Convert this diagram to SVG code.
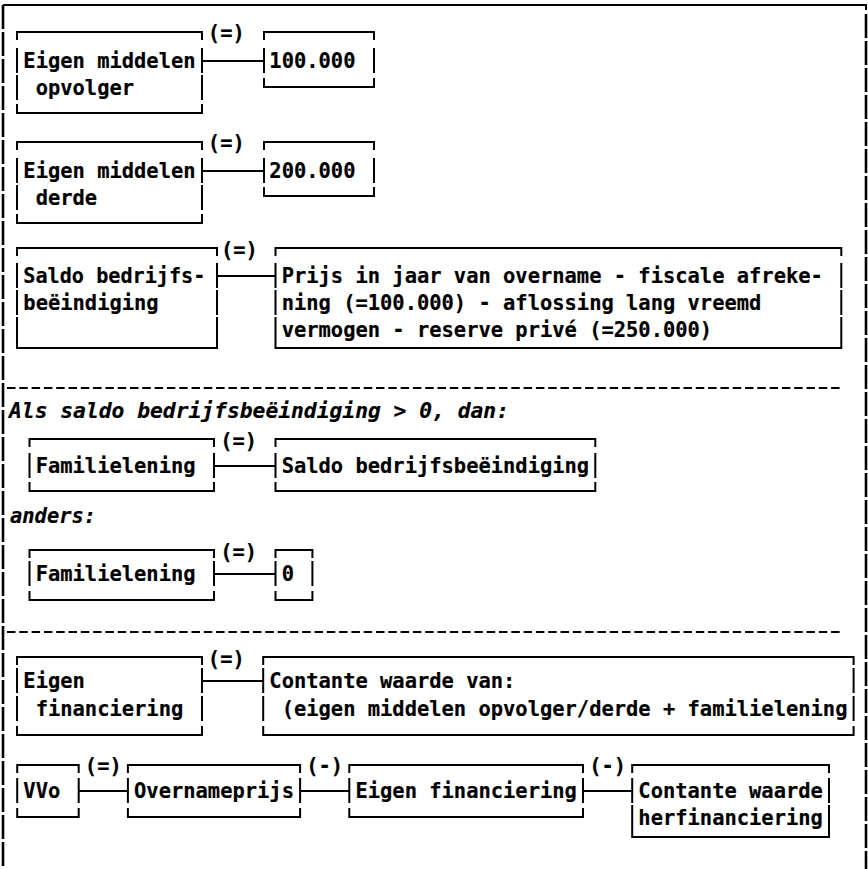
<svg xmlns="http://www.w3.org/2000/svg" width="868" height="869" viewBox="0 0 868 869">
  <style>
    .frame { fill: none; stroke: #000; stroke-width: 2.6; stroke-dasharray: 24 3; }
    .top { fill: none; stroke: #000; stroke-width: 2; }
    .box { fill: none; stroke: #000; stroke-width: 2; stroke-linecap: square; }
    .link { fill: none; stroke: #000; stroke-width: 1.8; }
    .rule { fill: none; stroke: #000; stroke-width: 2.2; stroke-dasharray: 8.5 3.8; }
    text { font-family: "DejaVu Sans Mono", "Liberation Mono", monospace; font-weight: bold; font-size: 20.4px; fill: #000; stroke: #000; stroke-width: 0.2; }
    .it { font-style: italic; }
  </style>

  <!-- page frame -->
  <g id="frame">
    <path class="top" d="M3 5H866V10"/>
    <path class="frame" d="M3 5V869"/>
    <path class="frame" d="M866 14V869"/>
  </g>

  <!-- section dividers and conditions -->
  <g id="sections">
    <path class="rule" d="M7 388H843"/>
    <path class="rule" d="M7 632H843"/>
    <text class="it" x="9" y="418" textLength="500" lengthAdjust="spacingAndGlyphs">Als saldo bedrijfsbeëindiging &gt; 0, dan:</text>
    <text class="it" x="10" y="523" textLength="86.1" lengthAdjust="spacingAndGlyphs">anders:</text>
  </g>

  <!-- connectors with their operators -->
  <g id="connectors">
    <path class="link" d="M202 61H264"/>
    <text x="207.85" y="40" textLength="36.9" lengthAdjust="spacingAndGlyphs">(=)</text>
    <path class="link" d="M217 276H275.5"/>
    <text x="221" y="257" textLength="36.9" lengthAdjust="spacingAndGlyphs">(=)</text>
    <path class="link" d="M202 171H264"/>
    <text x="207.85" y="150" textLength="36.9" lengthAdjust="spacingAndGlyphs">(=)</text>
    <path class="link" d="M214 466H275.5"/>
    <text x="220.15" y="448" textLength="36.9" lengthAdjust="spacingAndGlyphs">(=)</text>
    <path class="link" d="M214 574H275.5"/>
    <text x="220.15" y="559" textLength="36.9" lengthAdjust="spacingAndGlyphs">(=)</text>
    <path class="link" d="M202 681H263.2"/>
    <text x="207.85" y="666" textLength="36.9" lengthAdjust="spacingAndGlyphs">(=)</text>
    <path class="link" d="M78.7 791H127.9"/>
    <text x="84.85" y="773" textLength="36.9" lengthAdjust="spacingAndGlyphs">(=)</text>
    <path class="link" d="M300.1 791H349.3"/>
    <text x="306.25" y="773" textLength="36.9" lengthAdjust="spacingAndGlyphs">(-)</text>
    <path class="link" d="M583 791H632.2"/>
    <text x="589.15" y="773" textLength="36.9" lengthAdjust="spacingAndGlyphs">(-)</text>
  </g>

  <!-- Eigen middelen opvolger = 100.000 -->
  <g id="em-opvolger">
    <path class="box" d="M17 39V32H202V39M17 105V113H202V105M17 49V72M202 49V72M17 76V99M202 76V99"/>
    <text x="23.35" y="68" textLength="172.2" lengthAdjust="spacingAndGlyphs">Eigen middelen</text>
    <text x="35.65" y="95" textLength="98.4" lengthAdjust="spacingAndGlyphs">opvolger</text>
  </g>
  <g id="val-100000">
    <path class="box" d="M264 39V32H374V39M264 79V87H374V79M264 49V72M374 49V72"/>
    <text x="269.35" y="68" textLength="86.1" lengthAdjust="spacingAndGlyphs">100.000</text>
  </g>

  <!-- Eigen middelen derde = 200.000 -->
  <g id="em-derde">
    <path class="box" d="M17 149V142H202V149M17 215V223H202V215M17 159V182M202 159V182M17 186V209M202 186V209"/>
    <text x="23.35" y="178" textLength="172.2" lengthAdjust="spacingAndGlyphs">Eigen middelen</text>
    <text x="35.65" y="205" textLength="61.5" lengthAdjust="spacingAndGlyphs">derde</text>
  </g>
  <g id="val-200000">
    <path class="box" d="M264 149V142H374V149M264 188V196H374V188M264 159V182M374 159V182"/>
    <text x="269.35" y="178" textLength="86.1" lengthAdjust="spacingAndGlyphs">200.000</text>
  </g>

  <!-- Saldo bedrijfsbeëindiging -->
  <g id="saldo">
    <path class="box" d="M17 255V248H217V255M17 340V348H217V340M17 264V287M217 264V287M17 291V314M217 291V314M17 318V340M217 318V340"/>
    <text x="23.35" y="283" textLength="182" lengthAdjust="spacingAndGlyphs">Saldo bedrijfs-</text>
    <text x="23.35" y="310" textLength="135.3" lengthAdjust="spacingAndGlyphs">beëindiging</text>
  </g>
  <g id="saldo-formule">
    <path class="box" d="M275.5 255V248H841.3V255M275.5 340V348H841.3V340M275.5 264V287M841.3 264V287M275.5 291V314M841.3 291V314M275.5 318V340M841.3 318V340"/>
    <text x="281.65" y="283" textLength="541.2" lengthAdjust="spacingAndGlyphs">Prijs in jaar van overname - fiscale afreke-</text>
    <text x="281.65" y="310" textLength="479.7" lengthAdjust="spacingAndGlyphs">ning (=100.000) - aflossing lang vreemd</text>
    <text x="281.65" y="337" textLength="430.5" lengthAdjust="spacingAndGlyphs">vermogen - reserve privé (=250.000)</text>
  </g>

  <!-- Familielening, positive saldo -->
  <g id="familielening-1">
    <path class="box" d="M29.5 446V439H214V446M29.5 483V491H214V483M29.5 454V477M214 454V477"/>
    <text x="35.65" y="473" textLength="159.9" lengthAdjust="spacingAndGlyphs">Familielening</text>
  </g>
  <g id="saldo-ref">
    <path class="box" d="M275.5 446V439H595.3V446M275.5 483V491H595.3V483M275.5 454V477M595.3 454V477"/>
    <text x="281.65" y="473" textLength="307.5" lengthAdjust="spacingAndGlyphs">Saldo bedrijfsbeëindiging</text>
  </g>

  <!-- Familielening, otherwise -->
  <g id="familielening-2">
    <path class="box" d="M29.5 557V550H214V557M29.5 592V600H214V592M29.5 562V585M214 562V585"/>
    <text x="35.65" y="581" textLength="159.9" lengthAdjust="spacingAndGlyphs">Familielening</text>
  </g>
  <g id="nul">
    <path class="box" d="M275.5 557V550H312.4V557M275.5 592V600H312.4V592M275.5 562V585M312.4 562V585"/>
    <text x="281.65" y="581" textLength="12.3" lengthAdjust="spacingAndGlyphs">0</text>
  </g>

  <!-- Eigen financiering -->
  <g id="eigen-financiering">
    <path class="box" d="M17 664V657H202V664M17 727V735H202V727M17 669V692M202 669V692M17 697V720M202 697V720"/>
    <text x="23.35" y="688" textLength="61.5" lengthAdjust="spacingAndGlyphs">Eigen</text>
    <text x="35.65" y="716" textLength="147.6" lengthAdjust="spacingAndGlyphs">financiering</text>
  </g>
  <g id="contante-waarde">
    <path class="box" d="M263.2 664V657H853.6V664M263.2 727V735H853.6V727M263.2 669V692M853.6 669V692M263.2 697V720M853.6 697V720"/>
    <text x="269.35" y="688" textLength="246" lengthAdjust="spacingAndGlyphs">Contante waarde van:</text>
    <text x="281.65" y="716" textLength="565.8" lengthAdjust="spacingAndGlyphs">(eigen middelen opvolger/derde + familielening</text>
  </g>

  <!-- VVo chain -->
  <g id="vvo">
    <path class="box" d="M17.2 772V765H78.7V772M17.2 809V817H78.7V809M17.2 779V802M78.7 779V802"/>
    <text x="23.35" y="798" textLength="36.9" lengthAdjust="spacingAndGlyphs">VVo</text>
  </g>
  <g id="overnameprijs">
    <path class="box" d="M127.9 772V765H300.1V772M127.9 809V817H300.1V809M127.9 779V802M300.1 779V802"/>
    <text x="134.05" y="798" textLength="159.9" lengthAdjust="spacingAndGlyphs">Overnameprijs</text>
  </g>
  <g id="eigen-financiering-2">
    <path class="box" d="M349.3 772V765H583V772M349.3 809V817H583V809M349.3 779V802M583 779V802"/>
    <text x="355.45" y="798" textLength="221.4" lengthAdjust="spacingAndGlyphs">Eigen financiering</text>
  </g>
  <g id="herfinanciering">
    <path class="box" d="M632.2 772V765H829V772M632.2 829V837H829V829M632.2 779V802M829 779V802M632.2 806V829M829 806V829"/>
    <text x="638.35" y="798" textLength="184.5" lengthAdjust="spacingAndGlyphs">Contante waarde</text>
    <text x="638.35" y="825" textLength="184.5" lengthAdjust="spacingAndGlyphs">herfinanciering</text>
  </g>
</svg>
